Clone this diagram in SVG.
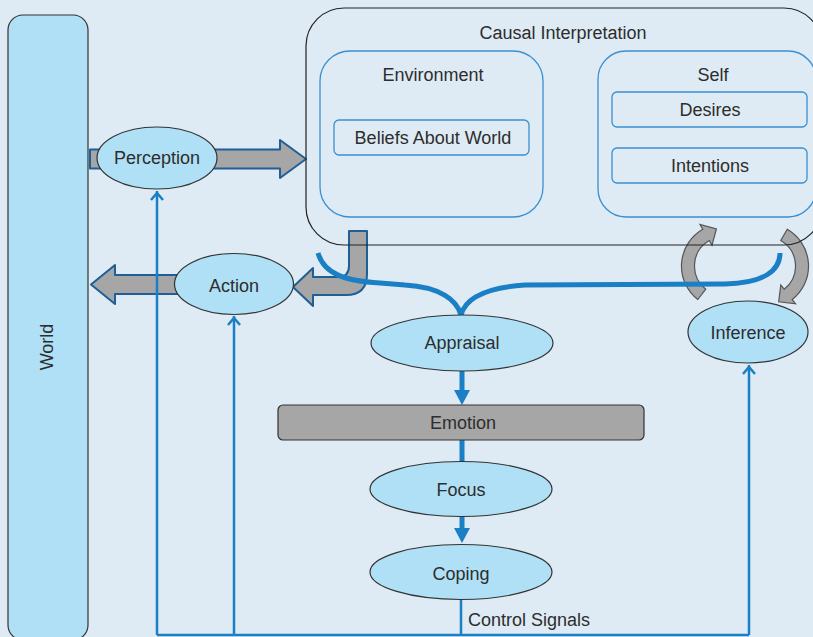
<svg xmlns="http://www.w3.org/2000/svg" width="813" height="637" viewBox="0 0 813 637">
<style>
  .txt { font-family: "Liberation Sans", Arial, sans-serif; font-size: 18px; fill: #2d2d2d; text-anchor: middle; dominant-baseline: central; }
  .node { fill: #b0e0f5; stroke: #333; stroke-width: 1.2; }
  .grp { fill: none; stroke: #3b8fd0; stroke-width: 1.3; }
  .big { fill: #a6a6a6; stroke: #1f5f95; stroke-width: 2; stroke-linejoin: round; }
  .circ { fill: #a6a6a6; stroke: #555; stroke-width: 1.2; stroke-linejoin: miter; }
  .thin { fill: none; stroke: #1a7fc4; stroke-width: 2.5; }
  .thick { fill: none; stroke: #1a7fc4; stroke-width: 5; }
  .head { fill: #1a7fc4; }
  .chev { fill: none; stroke: #1a7fc4; stroke-width: 2.5; stroke-linejoin: miter; }
</style>
<rect x="0" y="0" width="813" height="637" fill="#deebf4"/>

<g id="world">
  <rect x="8" y="15" width="80" height="625" rx="15" class="node" stroke="#555"/>
  <text class="txt" transform="translate(47,347) rotate(-90)">World</text>
</g>

<g id="connectors">
  <path class="big" d="M90,149.5 L280,149.5 L280,140 L306,159 L280,178 L280,168.5 L90,168.5 Z"/>
  <path class="big" d="M185,275 L115,275 L115,265 L91,284.5 L115,304 L115,294 L185,294 Z"/>
  <path class="big" d="M349,231 L367,231 L367,274 Q367,295 346,295 L313,295 L313,306 L293,287 L313,268 L313,277 L338,277 Q349,277 349,266 Z"/>
  <path class="circ" d="M697.8,299.5 A42.5,42.5 0 0 1 702.75,229.2 L700,224.4 L716.4,228.8 L712,245.2 L709.25,240.45 A29.5,29.5 0 0 0 705.8,289.2 Z"/>
  <path class="circ" d="M787.25,229.2 A42.5,42.5 0 0 1 792.2,299.5 L795.55,303.8 L778.7,301.8 L780.8,284.9 L784.2,289.2 A29.5,29.5 0 0 0 780.75,240.45 Z"/>
</g>

<g id="causal">
  <rect x="306" y="8" width="516" height="237" rx="38" fill="none" stroke="#222" stroke-width="1.2"/>
  <text class="txt" x="563" y="33">Causal Interpretation</text>
</g>
<g id="environment">
  <rect x="320" y="51" width="223" height="166" rx="30" class="grp"/>
  <text class="txt" x="433" y="75">Environment</text>
</g>
<g id="beliefs">
  <rect x="334" y="120" width="195" height="35" rx="5" class="grp"/>
  <text class="txt" x="433" y="138">Beliefs About World</text>
</g>
<g id="self">
  <rect x="598" y="51" width="218" height="166" rx="28" class="grp"/>
  <text class="txt" x="713" y="75">Self</text>
</g>
<g id="desires">
  <rect x="612" y="92" width="195" height="35" rx="5" class="grp"/>
  <text class="txt" x="710" y="110">Desires</text>
</g>
<g id="intentions">
  <rect x="612" y="148" width="195" height="35" rx="5" class="grp"/>
  <text class="txt" x="710" y="166">Intentions</text>
</g>

<g id="connectors-lines">
  <path class="thick" stroke-width="4.5" d="M318,253 C324,274 345,281 380,283 L405,285 C440,287 457,300 461,315"/>
  <path class="thick" stroke-width="4.5" d="M461,315 C465,300 482,288 525,285 L725,284 C765,283 780,270 780,253"/>
  <line class="thick" x1="462" y1="371" x2="462" y2="392"/>
  <polygon class="head" points="454,390 470,390 462,405"/>
  <line class="thick" x1="462" y1="440" x2="462" y2="462"/>
  <line class="thick" x1="462" y1="516" x2="462" y2="530"/>
  <polygon class="head" points="454,528 470,528 462,543"/>
  <path class="thin" d="M461,599 L461,635 M157,635 L749,635 M157,635 L157,191 M234,635 L234,316 M749,635 L749,365"/>
  <polyline class="chev" points="151,200 157,193 163,200"/>
  <polyline class="chev" points="228,325 234,318 240,325"/>
  <polyline class="chev" points="743,374 749,367 755,374"/>
  <text class="txt" x="468" y="620" style="text-anchor:start">Control Signals</text>
</g>

<g id="perception">
  <ellipse cx="157" cy="158" rx="60" ry="31" class="node"/>
  <text class="txt" x="157" y="158">Perception</text>
</g>
<g id="action">
  <ellipse cx="234" cy="284" rx="59.5" ry="30.5" class="node"/>
  <text class="txt" x="234" y="286">Action</text>
</g>
<g id="appraisal">
  <ellipse cx="462" cy="343" rx="91" ry="28" class="node"/>
  <text class="txt" x="462" y="343">Appraisal</text>
</g>
<g id="emotion">
  <rect x="278" y="405" width="366" height="35" rx="5" fill="#a6a6a6" stroke="#333" stroke-width="1.2"/>
  <text class="txt" x="463" y="423">Emotion</text>
</g>
<g id="focus">
  <ellipse cx="461" cy="489" rx="91" ry="27.5" class="node"/>
  <text class="txt" x="461" y="490">Focus</text>
</g>
<g id="coping">
  <ellipse cx="461" cy="572" rx="91" ry="27.5" class="node"/>
  <text class="txt" x="461" y="574">Coping</text>
</g>
<g id="inference">
  <ellipse cx="748" cy="332" rx="60" ry="31" class="node"/>
  <text class="txt" x="748" y="333">Inference</text>
</g>
</svg>
